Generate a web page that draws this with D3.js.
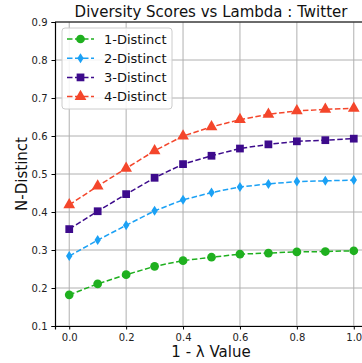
<!DOCTYPE html>
<html>
<head>
<meta charset="utf-8">
<script src="https://cdn.jsdelivr.net/npm/d3@7"></script>
<style>
  body { margin: 0; background: #fff; }
  svg { display: block; font-family: "DejaVu Sans", sans-serif; }
</style>
</head>
<body>
<div id="chart"></div>
<script>
  // data
  var lambdas = [0.0, 0.1, 0.2, 0.3, 0.4, 0.5, 0.6, 0.7, 0.8, 0.9, 1.0];
  var distinct1 = [0.182, 0.211, 0.235, 0.257, 0.272, 0.281, 0.289, 0.292, 0.295, 0.296, 0.298];
  var distinct2 = [0.284, 0.326, 0.365, 0.403, 0.432, 0.451, 0.466, 0.474, 0.480, 0.482, 0.484];
  var distinct3 = [0.355, 0.402, 0.447, 0.490, 0.526, 0.548, 0.567, 0.578, 0.586, 0.589, 0.593];
  var distinct4 = [0.419, 0.468, 0.515, 0.561, 0.600, 0.624, 0.643, 0.657, 0.666, 0.670, 0.673];
  var seriesNames = ["1-Distinct", "2-Distinct", "3-Distinct", "4-Distinct"];
  var xTicks = [0.0, 0.2, 0.4, 0.6, 0.8, 1.0];
  var yTicks = [0.1, 0.2, 0.3, 0.4, 0.5, 0.6, 0.7, 0.8, 0.9];

  const width = 362;
  const height = 363;
  var margin = { top: 22, right: -6, bottom: 37, left: 55 };
  var colors = ["#1fb01f", "#1ba1f5", "#3d0b8c", "#f4462b"];
  var shapes = [d3.symbolCircle, "diamond", d3.symbolSquare, d3.symbolTriangle];

  var series = [distinct1, distinct2, distinct3, distinct4].map(function(vals, i) {
    return { name: seriesNames[i], color: colors[i], shape: shapes[i],
      points: vals.map(function(v, j) { return { x: lambdas[j], y: v }; }) };
  });

  var svg = d3.select("#chart").append("svg")
    .attr("width", width)
    .attr("height", height);

  var x = d3.scaleLinear().domain([-0.05, 1.05]).range([margin.left, width - margin.right]);
  var y = d3.scaleLinear().domain([0.1, 0.9]).range([height - margin.bottom, margin.top]);

  // grid
  svg.append("g").selectAll("line").data(xTicks).enter().append("line")
    .attr("x1", function(d) { return x(d); }).attr("x2", function(d) { return x(d); })
    .attr("y1", y(0.1)).attr("y2", y(0.9))
    .attr("stroke", "#b0b0b0").attr("stroke-width", 1);
  svg.append("g").selectAll("line").data(yTicks).enter().append("line")
    .attr("x1", margin.left).attr("x2", width)
    .attr("y1", function(d) { return y(d); }).attr("y2", function(d) { return y(d); })
    .attr("stroke", "#b0b0b0").attr("stroke-width", 1);

  // axes
  var xAxis = svg.append("g")
    .attr("transform", "translate(0," + y(0.1) + ")")
    .call(d3.axisBottom(x).tickValues(xTicks).tickFormat(d3.format(".1f")).tickSizeOuter(0).tickSize(3.5).tickPadding(4));
  var yAxis = svg.append("g")
    .attr("transform", "translate(" + margin.left + ",0)")
    .call(d3.axisLeft(y).tickValues(yTicks).tickFormat(d3.format(".1f")).tickSizeOuter(0).tickSize(3.5).tickPadding(4));
  [xAxis, yAxis].forEach(function(a) {
    a.selectAll("text").attr("font-size", 10).attr("fill", "#222").attr("font-family", "DejaVu Sans");
    a.select(".domain").attr("stroke", "#000").attr("stroke-width", 1.2);
    a.selectAll(".tick line").attr("stroke", "#000");
  });
  // top spine
  svg.append("line").attr("x1", margin.left).attr("x2", width)
    .attr("y1", y(0.9)).attr("y2", y(0.9)).attr("stroke", "#000").attr("stroke-width", 1.2);

  function symbolPath(shape, size) {
    if (shape === "diamond") {
      var w = 3.2, h = 5;
      return "M0," + (-h) + "L" + w + ",0L0," + h + "L" + (-w) + ",0Z";
    }
    return d3.symbol().type(shape).size(size)();
  }

  var line = d3.line().x(function(d) { return x(d.x); }).y(function(d) { return y(d.y); });

  series.forEach(function(s) {
    svg.append("path").datum(s.points)
      .attr("d", line)
      .attr("fill", "none")
      .attr("stroke", s.color)
      .attr("stroke-width", 1.5)
      .attr("stroke-dasharray", "5.5,2.5");
    svg.append("g").selectAll("path").data(s.points).enter().append("path")
      .attr("transform", function(d) { return "translate(" + x(d.x) + "," + y(d.y) + ")"; })
      .attr("d", symbolPath(s.shape, 60))
      .attr("fill", s.color);
  });

  // legend
  var legend = svg.append("g").attr("transform", "translate(62,28)");
  legend.append("rect").attr("width", 110).attr("height", 81).attr("rx", 3)
    .attr("fill", "#fff").attr("fill-opacity", 0.85).attr("stroke", "#ccc");
  series.forEach(function(s, i) {
    var ly = 11 + i * 19.2;
    legend.append("line").attr("x1", 5).attr("x2", 32).attr("y1", ly).attr("y2", ly)
      .attr("stroke", s.color).attr("stroke-width", 1.5).attr("stroke-dasharray", "5.5,2.5");
    legend.append("path").attr("transform", "translate(18.5," + ly + ")")
      .attr("d", symbolPath(s.shape, 60)).attr("fill", s.color);
    legend.append("text").attr("x", 42).attr("y", ly + 4.5)
      .attr("font-size", 13).attr("fill", "#111").text(s.name);
  });

  // titles
  svg.append("text").attr("x", 211).attr("y", 17).attr("text-anchor", "middle")
    .attr("font-size", 15).attr("fill", "#111").text("Diversity Scores vs Lambda : Twitter");
  svg.append("text").attr("x", 211).attr("y", 357).attr("text-anchor", "middle")
    .attr("font-size", 15).attr("fill", "#111").text("1 - λ Value");
  svg.append("text").attr("transform", "translate(27," + y(0.5) + ") rotate(-90)")
    .attr("text-anchor", "middle").attr("font-size", 15).attr("fill", "#111").text("N-Distinct");
</script>
</body>
</html>
